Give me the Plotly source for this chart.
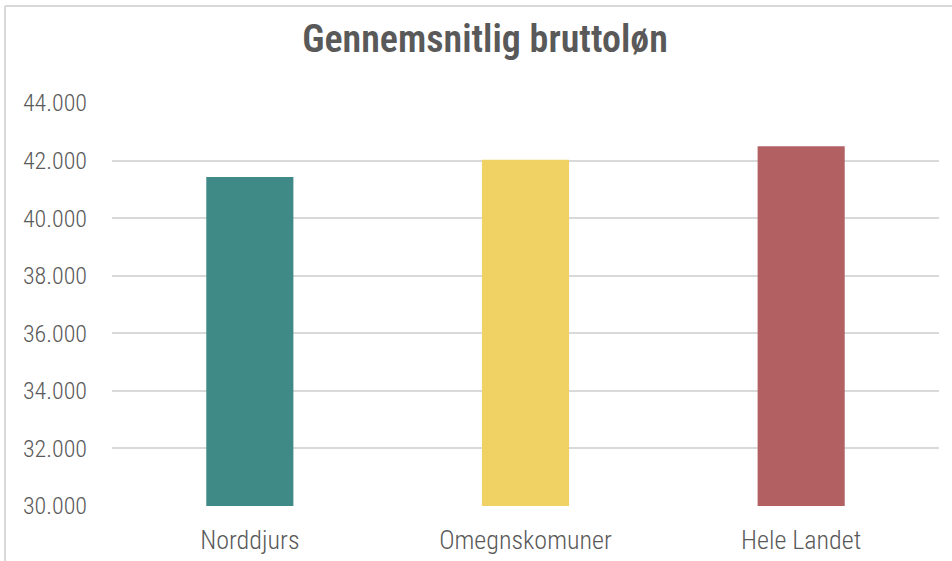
import plotly.graph_objects as go

categories = ["Norddjurs", "Omegnskomuner", "Hele Landet"]
values = [41430, 42030, 42500]
colors = ["#3F8A87", "#F0D264", "#B36063"]
tick_vals = [30000, 32000, 34000, 36000, 38000, 40000, 42000, 44000]

fig = go.Figure(go.Bar(x=categories, y=values, marker_color=colors, width=0.316,
                       marker_line_width=0))

W, H = 952, 561
L, R, T, B = 112, 13, 103, 55
pw, ph = W - L - R, H - T - B

def px(x):
    return (x - L) / pw

def py(y):
    return (H - B - y) / ph

FONT = "Liberation Sans Narrow, Roboto Condensed, DejaVu Sans Condensed, sans-serif"

fig.update_layout(
    width=W, height=H,
    margin=dict(l=L, r=R, t=T, b=B, autoexpand=False),
    paper_bgcolor="white", plot_bgcolor="white",
    separators=",.",
    font=dict(family=FONT, color="#595959", size=24, weight=300),
    title=dict(text="Gennemsnitlig bruttoløn", x=px(485), xref="paper", xanchor="center",
               y=1 - 39 / H, yanchor="middle",
               font=dict(family=FONT, size=38, color="#595959", weight=600)),
    showlegend=False,
    xaxis=dict(showgrid=False, showline=False, ticks="", ticklabelstandoff=16, automargin=False,
               tickfont=dict(family=FONT, size=26, color="#595959", weight=300)),
    yaxis=dict(range=[30000, 44000], tickvals=tick_vals, tickformat=",d", automargin=False,
               showgrid=True, gridcolor="#D9D9D9", gridwidth=2, zeroline=False,
               showline=False, ticks="", ticklabelstandoff=24,
               tickfont=dict(family=FONT, size=24, color="#595959", weight=300)),
    shapes=[
        dict(type="line", xref="paper", yref="paper", x0=px(5), x1=px(5), y0=py(6), y1=py(H + 5),
             line=dict(color="#D9D9D9", width=2)),
        dict(type="line", xref="paper", yref="paper", x0=px(5), x1=px(W + 5), y0=py(6), y1=py(6),
             line=dict(color="#D9D9D9", width=2)),
    ],
)

fig.write_html("out.html", config={"displayModeBar": False},
               post_script="document.body.style.margin='0';document.body.style.overflow='hidden';")
